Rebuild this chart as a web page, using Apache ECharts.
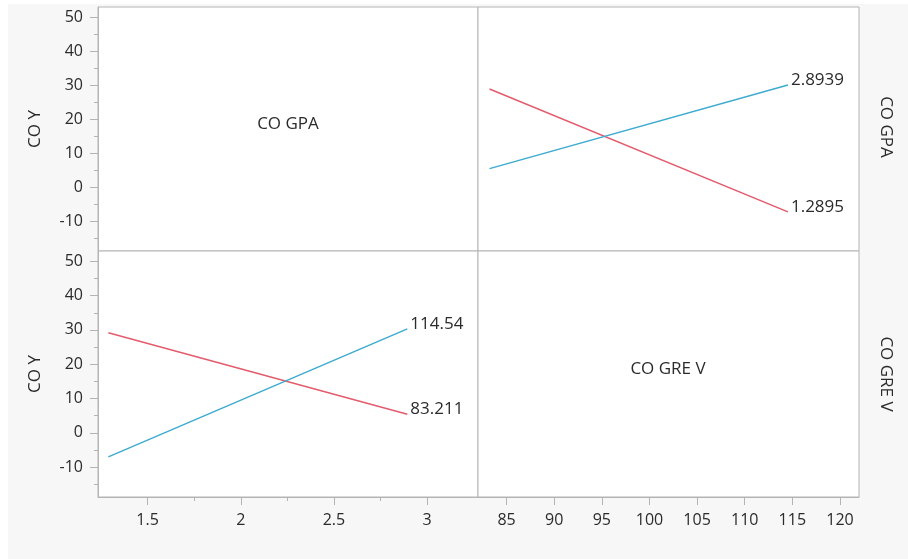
<!DOCTYPE html>
<html>
<head>
<meta charset="utf-8">
<script src="https://cdn.jsdelivr.net/npm/echarts@6/dist/echarts.min.js"></script>
<style>
html,body{margin:0;padding:0;background:#ffffff;}
#bg{position:absolute;left:8px;top:4px;width:900px;height:555px;background:#f7f7f7;}
#chart{position:absolute;left:0;top:0;width:908px;height:559px;}
</style>
</head>
<body>
<div id="bg"></div>
<div id="chart"></div>
<script>
// ---- data ----
const gpaLevels = [1.2895, 2.8939];      // CO GPA low / high
const greLevels = [83.211, 114.54];      // CO GRE V low / high
// top-right panel: x = GRE V, one line per GPA level
const yGpaLow  = [28.9, -7.2];           // GPA = 1.2895
const yGpaHigh = [5.5, 30.1];            // GPA = 2.8939
// bottom-left panel: x = GPA, one line per GRE V level
const yGreLow  = [29.2, 5.4];            // GRE V = 83.211
const yGreHigh = [-7.0, 30.3];           // GRE V = 114.54

const yMajorTicks = [-10, 0, 10, 20, 30, 40, 50];
const yMinorTicks = [-15, -5, 5, 15, 25, 35, 45];
const gpaMajorTicks = [1.5, 2, 2.5, 3];
const gpaMinorTicks = [1.75, 2.25, 2.75];
const greMajorTicks = [85, 90, 95, 100, 105, 110, 115, 120];

const yRange = [-18.7, 53];
const gpaRange = [1.234, 3.273];
const greRange = [82, 122];

const RED = '#e35b6c', BLUE = '#3eabd0', FRAME = '#b4b4b4', TXT = '#2b2b2b';
const FONT = 'Open Sans';
const TICKFS = 16, TXTFS = 17;

function pts(xs, ys){ return xs.map((x,i)=>[x, ys[i]]); }

const gridBase = {show:true, backgroundColor:'#ffffff', borderColor:FRAME, borderWidth:1, containLabel:false, outerBoundsMode:'none'};
const L = 98, M = 478, R = 859, T = 7, MID = 251, B = 497;

function hiddenAxis(grid, range){
  return {type:'value', gridIndex:grid, min:range[0], max:range[1], show:false};
}
function majorAxis(grid, range, ticks, pos, margin){
  return {
    type:'value', gridIndex:grid, min:range[0], max:range[1], position:pos,
    axisLine:{show:true, onZero:false, lineStyle:{color:FRAME, width:1}},
    axisTick:{show:true, length:8, customValues:ticks, lineStyle:{color:FRAME}},
    axisLabel:{show:true, customValues:ticks, color:TXT, fontFamily:FONT, fontSize:TICKFS, margin:margin},
    splitLine:{show:false}
  };
}
function minorAxis(grid, range, ticks, pos){
  return {
    type:'value', gridIndex:grid, min:range[0], max:range[1], position:pos, offset:0,
    axisLine:{show:false, onZero:false},
    axisTick:{show:true, length:4, customValues:ticks, lineStyle:{color:FRAME}},
    axisLabel:{show:false},
    splitLine:{show:false}
  };
}

function lineSeries(name, color, xi, yi, data){
  return {
    type:'line', name:name, xAxisIndex:xi, yAxisIndex:yi, data:data,
    symbol:'none', silent:true, color:color,
    lineStyle:{color:color, width:1.5},
    endLabel:{show:true, formatter:name, color:TXT, fontFamily:FONT, fontSize:TXTFS, distance:3, offset:[0,-5]}
  };
}

function txt(x, y, s, rot){
  return {type:'text', x:x, y:y, rotation:rot||0,
    style:{text:s, fill:TXT, font:TXTFS + 'px "Open Sans"', align:'center', verticalAlign:'middle'}};
}

const chart = echarts.init(document.getElementById('chart'), null, {renderer:'canvas'});
chart.setOption({
  animation:false,
  backgroundColor:'transparent',
  grid:[
    Object.assign({left:L, top:T, width:M-L, height:MID-T}, gridBase),
    Object.assign({left:M, top:T, width:R-M, height:MID-T}, gridBase),
    Object.assign({left:L, top:MID, width:M-L, height:B-MID}, gridBase),
    Object.assign({left:M, top:MID, width:R-M, height:B-MID}, gridBase)
  ],
  xAxis:[
    hiddenAxis(0, gpaRange),                                  // 0
    hiddenAxis(1, greRange),                                  // 1
    majorAxis(2, gpaRange, gpaMajorTicks, 'bottom', 15),      // 2
    minorAxis(2, gpaRange, gpaMinorTicks, 'bottom'),          // 3
    majorAxis(3, greRange, greMajorTicks, 'bottom', 15)       // 4
  ],
  yAxis:[
    majorAxis(0, yRange, yMajorTicks, 'left', 15),            // 0
    minorAxis(0, yRange, yMinorTicks, 'left'),                // 1
    hiddenAxis(1, yRange),                                    // 2
    majorAxis(2, yRange, yMajorTicks, 'left', 15),            // 3
    minorAxis(2, yRange, yMinorTicks, 'left'),                // 4
    hiddenAxis(3, yRange)                                     // 5
  ],
  series:[
    lineSeries(String(gpaLevels[0]), RED, 1, 2, pts(greLevels, yGpaLow)),
    lineSeries(String(gpaLevels[1]), BLUE, 1, 2, pts(greLevels, yGpaHigh)),
    lineSeries(String(greLevels[0]), RED, 2, 3, pts(gpaLevels, yGreLow)),
    lineSeries(String(greLevels[1]), BLUE, 2, 3, pts(gpaLevels, yGreHigh))
  ],
  graphic:[
    txt(288, 124, 'CO GPA'),
    txt(668, 369, 'CO GRE V'),
    txt(35, 129, 'CO Y', Math.PI/2),
    txt(35, 374, 'CO Y', Math.PI/2),
    txt(886, 127, 'CO GPA', -Math.PI/2),
    txt(886, 374, 'CO GRE V', -Math.PI/2)
  ]
});
</script>
</body>
</html>
